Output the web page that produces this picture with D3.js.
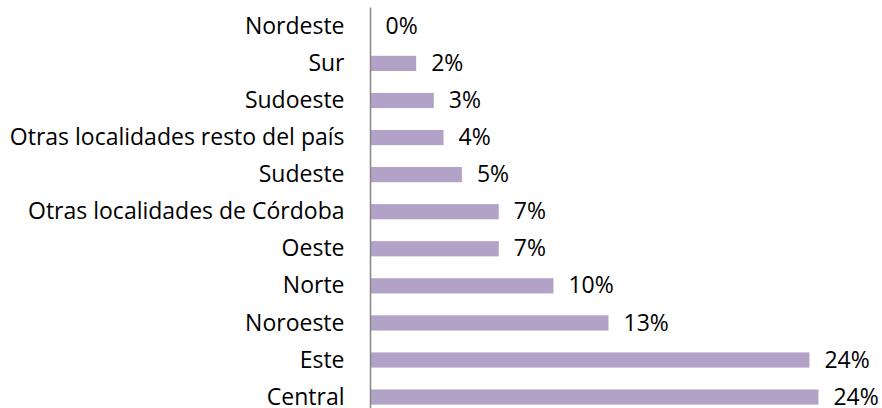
<!DOCTYPE html>
<html>
<head>
<meta charset="utf-8">
<script src="https://cdn.jsdelivr.net/npm/d3@7"></script>
<style>
  body { margin: 0; background: #fff; }
  svg text { font-family: "Open Sans", sans-serif; font-size: 23px; fill: #000; }
</style>
</head>
<body>
<svg id="chart" width="882" height="408"></svg>
<script>
//-- data --//
var zonas = ["Nordeste", "Sur", "Sudoeste", "Otras localidades resto del país", "Sudeste",
             "Otras localidades de Córdoba", "Oeste", "Norte", "Noroeste", "Este", "Central"];
var porcentajes = [0, 0.0249, 0.0345, 0.0398, 0.0498, 0.0699, 0.0699, 0.0997, 0.1297, 0.2392, 0.2441];
//-- data --//

var data = zonas.map((z, i) => ({zona: z, valor: porcentajes[i]}));

var svg = d3.select("#chart"),
    x0 = 370.5;

//--scales--//
var x = d3.scaleLinear()
    .domain([0, 0.25])
    .range([x0, x0 + 25 * 18.35]);

var y = d3.scaleBand()
    .domain(zonas)
    .range([7.8, 415.6])
    .paddingInner(0.59)
    .paddingOuter(0.295);

//--bars--//
svg.append("g")
  .selectAll("rect")
  .data(data)
  .enter().append("rect")
    .attr("x", x(0))
    .attr("y", d => y(d.zona))
    .attr("width", d => x(d.valor) - x(0))
    .attr("height", y.bandwidth())
    .attr("fill", "#b3a2c7");

//--value labels--//
var pct = d => Math.round(d * 100) + "%";

svg.append("g")
  .selectAll("text")
  .data(data)
  .enter().append("text")
    .attr("x", d => x(d.valor) + 15)
    .attr("y", d => y(d.zona) + y.bandwidth() / 2)
    .attr("dy", "0.33em")
    .text(d => pct(d.valor));

//--category axis--//
var yAxis = svg.append("g")
    .attr("transform", `translate(${x0},0)`)
    .call(d3.axisLeft(y).tickSize(0).tickPadding(26));

yAxis.select(".domain")
    .attr("d", `M0,7.5V408`)
    .attr("stroke", "#868686")
    .attr("stroke-width", 1.5);

yAxis.selectAll("text")
    .style("font-family", "'Open Sans', sans-serif")
    .style("font-size", "23px")
    .attr("dy", "0.33em")
    .attr("fill", "#000");
</script>
</body>
</html>
